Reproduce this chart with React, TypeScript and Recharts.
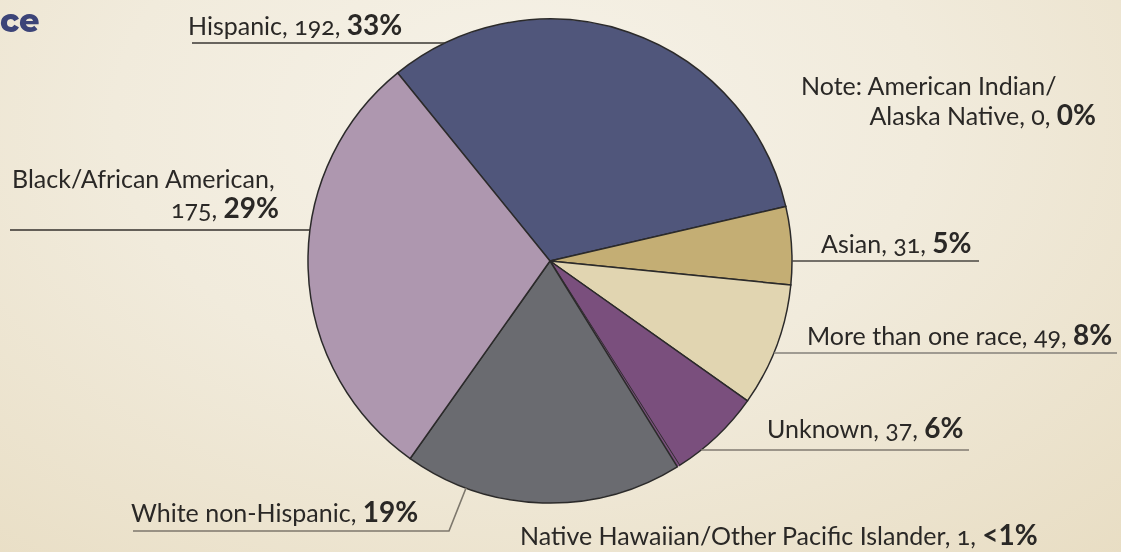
import React from 'react';
import { PieChart, Pie, Cell } from 'recharts';

const categories = [
  'Hispanic',
  'American Indian/Alaska Native',
  'Asian',
  'More than one race',
  'Unknown',
  'Native Hawaiian/Other Pacific Islander',
  'White non-Hispanic',
  'Black/African American',
];
// White count is not printed on the chart; estimated from its slice (~19%)
const counts = [192, 0, 31, 49, 37, 1, 111, 175];
const countLabels = ['192', '0', '31', '49', '37', '1', '', '175'];
const percentLabels = ['33%', '0%', '5%', '8%', '6%', '<1%', '19%', '29%'];
const colors = ['#50567b', '#50567b', '#c4ae74', '#e1d5b1', '#7a4f7d', '#7a4f7d', '#6a6b70', '#ae97af'];

const data = categories.map((name, i) => ({ name, value: counts[i] }));

type Rule = { x: number; y: number; color: string; elbowX?: number; edgeAngle?: number };
type Layout = {
  x: number;
  y: number;
  anchor: 'start' | 'end';
  prefix?: string;
  breakAfter?: string;
  x1?: number;
  y1?: number;
  rule?: Rule;
};

const labelLayout: Layout[] = [
  { x: 188, y: 35, anchor: 'start', rule: { x: 192, y: 43, color: '#3a3733' } },
  { x: 1096, y: 125, anchor: 'end', prefix: 'Note: ', breakAfter: '/', x1: 801, y1: 95 },
  { x: 821, y: 253, anchor: 'start', rule: { x: 979, y: 261, color: '#4a4742' } },
  { x: 807, y: 345, anchor: 'start', rule: { x: 1117, y: 353, color: '#85807a' } },
  { x: 767, y: 438, anchor: 'start', rule: { x: 969, y: 450, color: '#807a70' } },
  { x: 520, y: 545, anchor: 'start' },
  { x: 131, y: 522, anchor: 'start', rule: { x: 133, y: 531, color: '#7d776c', elbowX: 449, edgeAngle: 249.7 } },
  { x: 279, y: 218, anchor: 'end', breakAfter: 'American,', x1: 12, y1: 188, rule: { x: 10, y: 230, color: '#34312d' } },
];

const FONT = 'Lato, "Open Sans", sans-serif';
const TEXT = '#2a2826';
const SIZE = 25;
const BOLD_SIZE = 28;

const renderLabel = (props: any) => {
  const { cx, cy, outerRadius, index } = props;
  const lay = labelLayout[index];
  if (!lay) return null;
  const r = outerRadius;
  const count = countLabels[index];
  const full = `${lay.prefix ?? ''}${categories[index]},${count ? ` ${count},` : ''} `;
  let line1 = '';
  let line2 = full;
  if (lay.breakAfter) {
    const k = full.indexOf(lay.breakAfter) + lay.breakAfter.length;
    line1 = full.slice(0, k);
    line2 = full.slice(k).trimStart();
  }
  let rule: React.ReactNode = null;
  if (lay.rule) {
    const ru = lay.rule;
    let pts: string;
    if (ru.edgeAngle !== undefined && ru.elbowX !== undefined) {
      const a = (ru.edgeAngle * Math.PI) / 180;
      const ex = cx + r * Math.cos(a);
      const ey = cy - r * Math.sin(a);
      pts = `${ru.x},${ru.y} ${ru.elbowX},${ru.y} ${ex},${ey}`;
    } else {
      const dy = ru.y - cy;
      const half = Math.sqrt(Math.max(r * r - dy * dy, 0));
      const ex = ru.x < cx ? cx - half : cx + half;
      pts = `${ru.x},${ru.y} ${ex},${ru.y}`;
    }
    rule = <polyline points={pts} fill="none" stroke={ru.color} strokeWidth={1.6} />;
  }
  return (
    <g key={`lbl-${index}`}>
      {line1 && (
        <text x={lay.x1} y={lay.y1} textAnchor="start" fontFamily={FONT} fontSize={SIZE} fill={TEXT} style={{ fontVariantNumeric: 'oldstyle-nums' }}>
          {line1}
        </text>
      )}
      <text x={lay.x} y={lay.y} textAnchor={lay.anchor} fontFamily={FONT} fontSize={SIZE} fill={TEXT} style={{ fontVariantNumeric: 'oldstyle-nums' }}>
        <tspan>{line2}</tspan>
        <tspan fontWeight={700} fontSize={BOLD_SIZE} style={{ fontVariantNumeric: 'lining-nums' }}>{percentLabels[index]}</tspan>
      </text>
      {rule}
    </g>
  );
};

export default function App() {
  return (
    <div
      style={{
        position: 'fixed',
        left: 0,
        top: 0,
        width: 1121,
        height: 552,
        overflow: 'hidden',
        background:
          'radial-gradient(ellipse 900px 600px at 520px 120px, #f6f2e8 0%, #f1ebdc 45%, #e8ddc3 100%)',
      }}
    >
      <PieChart width={1121} height={552} margin={{ top: 0, right: 0, bottom: 0, left: 0 }}>
        <text x={0} y={32} fontFamily='Montserrat, Inter, "Open Sans", sans-serif' fontSize={32} fontWeight={800} fill="#3c4478">
          ce
        </text>
        <Pie
          data={data}
          dataKey="value"
          nameKey="name"
          cx={550}
          cy={261}
          outerRadius={242}
          startAngle={129}
          endAngle={-231}
          stroke="#2b2a2a"
          strokeWidth={1.5}
          label={renderLabel}
          labelLine={false}
          isAnimationActive={false}
        >
          {data.map((d, i) => (
            <Cell key={d.name} fill={colors[i]} stroke={d.value <= 1 ? 'none' : '#2b2a2a'} />
          ))}
        </Pie>
      </PieChart>
    </div>
  );
}
